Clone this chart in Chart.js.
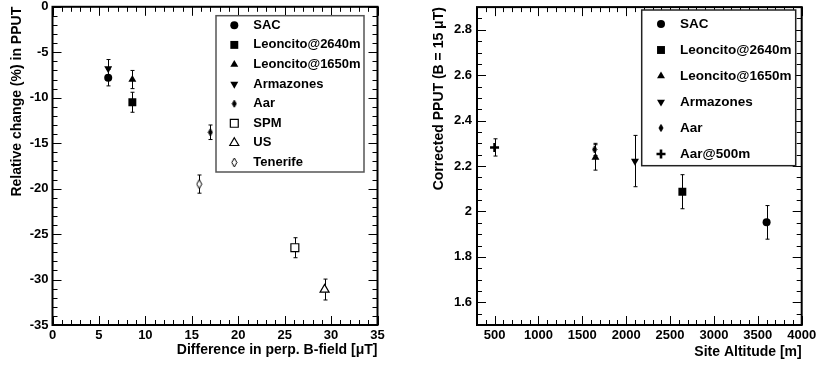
<!DOCTYPE html>
<html>
<head>
<meta charset="utf-8">
<script src="https://cdn.jsdelivr.net/npm/chart.js@4.4.1/dist/chart.umd.min.js"></script>
<style>
  html, body { margin: 0; padding: 0; background: #fff; }
  #wrap { position: relative; width: 816px; height: 365px; }
  canvas { position: absolute; top: 0; }
  #left { left: 0; }
  #right { left: 408px; }
</style>
</head>
<body>
<div id="wrap">
  <canvas id="left" width="408" height="365"></canvas>
  <canvas id="right" width="408" height="365"></canvas>
</div>
<script>
// left panel: relative PPUT change vs. difference in perpendicular B-field
const bfieldSites = ['SAC', 'Leoncito@2640m', 'Leoncito@1650m', 'Armazones', 'Aar', 'SPM', 'US', 'Tenerife'];
const bfieldDiff = [6.0, 8.6, 8.6, 6.0, 17.0, 26.1, 29.3, 15.8];
const relChange = [-7.8, -10.5, -8.0, -6.8, -13.8, -26.5, -31.1, -19.5];
const relChangeErr = [0.9, 1.1, 1.0, 1.0, 0.8, 1.1, 1.15, 1.0];
const bfieldTicks = [0, 5, 10, 15, 20, 25, 30, 35];
const relChangeTicks = [-35, -30, -25, -20, -15, -10, -5, 0];

// right panel: corrected PPUT vs. site altitude
const altSites = ['SAC', 'Leoncito@2640m', 'Leoncito@1650m', 'Armazones', 'Aar', 'Aar@500m'];
const altitude = [3600, 2640, 1650, 2100, 1640, 500];
const pput = [1.952, 2.087, 2.238, 2.222, 2.273, 2.282];
const pputErr = [0.074, 0.075, 0.056, 0.113, 0.027, 0.038];
const altitudeTicks = [500, 1000, 1500, 2000, 2500, 3000, 3500, 4000];
const pputTicks = [1.6, 1.8, 2, 2.2, 2.4, 2.6, 2.8];

const FONT = '"Liberation Sans", Arial, Helvetica, sans-serif';

function diamondImage(w, h, open) {
  const c = document.createElement('canvas');
  c.width = w + 2;
  c.height = h + 2;
  const g = c.getContext('2d');
  g.beginPath();
  g.moveTo(c.width / 2, 1);
  g.lineTo(c.width - 1, c.height / 2);
  g.lineTo(c.width / 2, c.height - 1);
  g.lineTo(1, c.height / 2);
  g.closePath();
  g.fillStyle = open ? '#fff' : '#000';
  g.fill();
  g.lineWidth = 1;
  g.strokeStyle = '#000';
  g.stroke();
  return c;
}

const markers = {
  'SAC': {style: 'circle', radius: 4},
  'Leoncito@2640m': {style: 'rect', radius: 5.6},
  'Leoncito@1650m': {style: 'triangle', radius: 4.6},
  'Armazones': {style: 'triangle', radius: 4.6, rotation: 180},
  'Aar': {style: diamondImage(4, 7, false), radius: 4},
  'Aar@500m': {style: 'cross', radius: 4.5, border: 2.6},
  'SPM': {style: 'rect', radius: 5.6, open: true},
  'US': {style: 'triangle', radius: 5.2, open: true},
  'Tenerife': {style: diamondImage(5, 9, true), radius: 4},
};

function makeDatasets(sites, xs, ys, errs) {
  return sites.map((site, i) => {
    const m = markers[site];
    return {
      label: site,
      data: [{x: xs[i], y: ys[i]}],
      errors: [errs[i]],
      pointStyle: m.style,
      pointRadius: m.radius,
      pointRotation: m.rotation || 0,
      pointBackgroundColor: m.open ? '#fff' : '#000',
      pointBorderColor: '#000',
      pointBorderWidth: m.border || (m.open ? 1.2 : 0),
    };
  });
}

function axisOptions(tickValues, min, max, title, size, titlePad, labelPad) {
  return {
    type: 'linear',
    min: min,
    max: max,
    grid: {display: false, drawTicks: false},
    border: {display: false},
    ticks: {
      autoSkip: false,
      padding: labelPad,
      color: '#000',
      font: {family: FONT, size: 13, weight: 'bold'},
      callback: v => String(v)
    },
    title: {
      display: true,
      text: title,
      align: 'end',
      color: '#000',
      font: {family: FONT, size: 14, weight: 'bold'},
      padding: titlePad
    },
    afterBuildTicks: s => { s.ticks = tickValues.map(v => ({value: v})); },
    afterFit: s => {
      if (s.isHorizontal()) s.height = size; else s.width = size;
      s.paddingTop = 0; s.paddingBottom = 0; s.paddingLeft = 0; s.paddingRight = 0;
    }
  };
}

// frame with inward ticks on all four sides
const framePlugin = {
  id: 'frame',
  beforeDatasetsDraw(chart, args, o) {
    const {ctx, chartArea: a, scales: {x, y}} = chart;
    ctx.save();
    ctx.strokeStyle = '#000';
    ctx.lineWidth = 1;
    ctx.beginPath();
    const mark = (scale, v, len) => {
      const p = Math.round(scale.getPixelForValue(v)) + 0.5;
      if (scale.isHorizontal()) {
        ctx.moveTo(p, a.bottom); ctx.lineTo(p, a.bottom - len);
        ctx.moveTo(p, a.top); ctx.lineTo(p, a.top + len);
      } else {
        ctx.moveTo(a.left, p); ctx.lineTo(a.left + len, p);
        ctx.moveTo(a.right, p); ctx.lineTo(a.right - len, p);
      }
    };
    [[x, o.xMinor], [y, o.yMinor]].forEach(([scale, step]) => {
      for (let k = Math.ceil(scale.min / step - 1e-9); k * step <= scale.max + 1e-9; k++) {
        mark(scale, k * step, 5);
      }
      scale.ticks.forEach(t => mark(scale, t.value, 9));
    });
    ctx.stroke();
    ctx.lineWidth = 2;
    ctx.strokeRect(a.left, a.top, a.right - a.left, a.bottom - a.top);
    ctx.restore();
  }
};

const errorBarPlugin = {
  id: 'errorBars',
  beforeDatasetsDraw(chart) {
    const {ctx, scales: {x, y}} = chart;
    ctx.save();
    ctx.strokeStyle = '#000';
    ctx.lineWidth = 1;
    chart.data.datasets.forEach(ds => {
      ds.data.forEach((p, i) => {
        const px = Math.round(x.getPixelForValue(p.x)) + 0.5;
        const top = y.getPixelForValue(p.y + ds.errors[i]);
        const bot = y.getPixelForValue(p.y - ds.errors[i]);
        ctx.beginPath();
        ctx.moveTo(px, top); ctx.lineTo(px, bot);
        ctx.moveTo(px - 2, top); ctx.lineTo(px + 2, top);
        ctx.moveTo(px - 2, bot); ctx.lineTo(px + 2, bot);
        ctx.stroke();
      });
    });
    ctx.restore();
  }
};

const legendPlugin = {
  id: 'siteLegend',
  afterDraw(chart, args, o) {
    const ctx = chart.ctx;
    const [x1, y1, x2, y2] = o.box;
    ctx.save();
    ctx.fillStyle = '#fff';
    ctx.fillRect(x1, y1, x2 - x1, y2 - y1);
    ctx.strokeStyle = o.border;
    ctx.lineWidth = 1.5;
    ctx.strokeRect(x1, y1, x2 - x1, y2 - y1);
    ctx.font = `bold ${o.fontSize}px ${FONT}`;
    ctx.textBaseline = 'middle';
    ctx.textAlign = 'left';
    chart.data.datasets.forEach((ds, i) => {
      const yy = o.firstRow + i * o.rowStep;
      ctx.fillStyle = ds.pointBackgroundColor;
      ctx.strokeStyle = '#000';
      ctx.lineWidth = ds.pointBorderWidth;
      Chart.helpers.drawPoint(ctx, {
        pointStyle: ds.pointStyle, radius: ds.pointRadius,
        rotation: ds.pointRotation, borderWidth: ds.pointBorderWidth
      }, o.markerX, yy);
      ctx.fillStyle = '#000';
      ctx.fillText(ds.label, o.textX, yy);
    });
    ctx.restore();
  }
};

function makeChart(id, datasets, xAxis, yAxis, padding, frameOpts, legendOpts) {
  return new Chart(document.getElementById(id), {
    type: 'scatter',
    data: {datasets: datasets},
    options: {
      responsive: false,
      animation: false,
      devicePixelRatio: 1,
      layout: {padding: padding},
      plugins: {
        legend: {display: false},
        tooltip: {enabled: false},
        frame: frameOpts,
        siteLegend: legendOpts
      },
      scales: {x: xAxis, y: yAxis}
    },
    plugins: [framePlugin, errorBarPlugin, legendPlugin]
  });
}

makeChart('left',
  makeDatasets(bfieldSites, bfieldDiff, relChange, relChangeErr),
  axisOptions(bfieldTicks, 0, 35, 'Difference in perp. B-field [\u03bcT]', 40, {bottom: 6.6}, 3),
  axisOptions(relChangeTicks, -35, 0, 'Relative change (%) in PPUT', 52.5, {top: 9}, 4),
  {top: 4, right: 30.5, left: 0, bottom: 0},
  {xMinor: 1, yMinor: 1},
  {box: [216, 15.7, 364, 172], firstRow: 25.3, rowStep: 19.6, markerX: 234.3, textX: 253.3,
   fontSize: 13, border: '#555'}
);

makeChart('right',
  makeDatasets(altSites, altitude, pput, pputErr),
  axisOptions(altitudeTicks, 300, 4000, 'Site Altitude [m]', 40, {bottom: 4.6}, 3),
  axisOptions(pputTicks, 1.5, 2.9, 'Corrected PPUT (B = 15 \u03bcT)', 69, {top: 23}, 5),
  {top: 4, right: 14.3, left: 0, bottom: 0},
  {xMinor: 100, yMinor: 0.05},
  {box: [233.7, 10, 387.7, 165.7], firstRow: 24, rowStep: 26, markerX: 253, textX: 272,
   fontSize: 13.5, border: '#222'}
);
</script>
</body>
</html>
